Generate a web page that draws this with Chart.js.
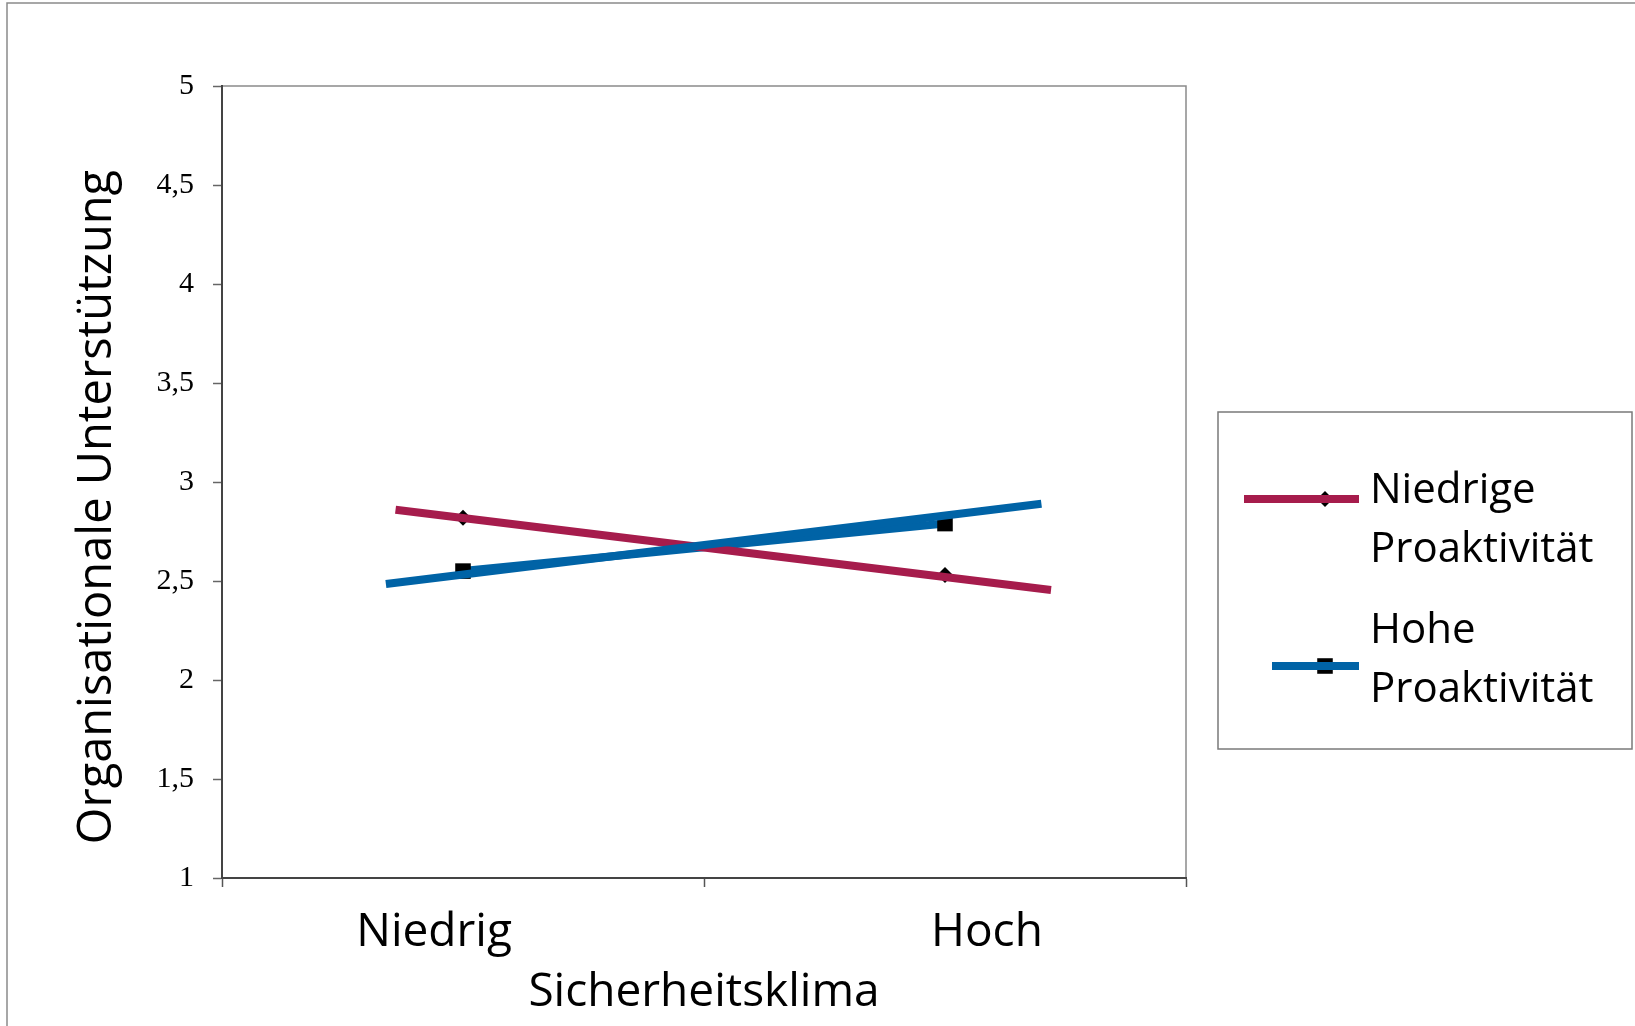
<!DOCTYPE html>
<html lang="de">
<head>
  <meta charset="UTF-8" />
  <title>Organisationale Unterstützung nach Sicherheitsklima</title>
  <style>
    body { margin: 0; background: #fff; }
    #chartContainer { width: 1635px; height: 1026px; }
  </style>
  <script src="https://cdn.jsdelivr.net/npm/chart.js"></script>
</head>
<body>
  <div id="chartContainer">
    <canvas id="interaktion" width="1635" height="1026"></canvas>
  </div>
  <script>
    // Kategorien der x-Achse (Sicherheitsklima)
    const kategorien = ['Niedrig', 'Hoch'];
    const serienNamen = ['Niedrige Proaktivität', 'Hohe Proaktivität'];

    // Mittelwerte je Gruppe (Niedrig, Hoch)
    const niedrigeProaktivitaet = [2.82, 2.53];
    const hoheProaktivitaet = [2.55, 2.79];

    // verlängerte Geraden: x in Kategorie-Einheiten (0 = Niedrig, 1 = Hoch)
    const geradeNiedrigX = [-0.14, 1.22];
    const geradeNiedrigY = [2.86, 2.455];
    const geradeHochX = [-0.16, 1.2];
    const geradeHochY = [2.485, 2.89];

    // y-Achse
    const yTicks = [1, 1.5, 2, 2.5, 3, 3.5, 4, 4.5, 5];
    const yTitel = 'Organisationale Unterstützung';
    const xTitel = 'Sicherheitsklima';

    const ROT = '#A61C4C';
    const BLAU = '#0063A6';
    const SCHRIFT = "'Open Sans', 'Noto Sans', sans-serif";

    // Beschriftungen stehen im Original etwas neben den Kategorien
    const labelVersatz = [-0.06, 0.087];

    const punkte = (xs, ys) => xs.map((x, i) => ({ x: x, y: ys[i] }));

    // Rahmen, y-Titel und Legende
    const zusatz = {
      id: 'zusatz',
      beforeDraw(chart) {
        const { ctx, chartArea: a } = chart;
        ctx.save();
        ctx.strokeStyle = '#8a8a8a';
        ctx.lineWidth = 1.5;
        ctx.beginPath();
        ctx.moveTo(7, chart.height);
        ctx.lineTo(7, 3);
        ctx.lineTo(chart.width, 3);
        ctx.stroke();
        // Plotrahmen oben und rechts
        ctx.beginPath();
        ctx.moveTo(a.left, a.top);
        ctx.lineTo(a.right, a.top);
        ctx.lineTo(a.right, a.bottom);
        ctx.stroke();
        // y-Achsentitel
        ctx.translate(98, 507);
        ctx.rotate(-Math.PI / 2);
        ctx.fillStyle = '#000';
        ctx.font = '47px ' + SCHRIFT;
        ctx.textAlign = 'center';
        ctx.textBaseline = 'middle';
        ctx.fillText(yTitel, 0, 0);
        ctx.restore();
      },
      afterDraw(chart) {
        const { ctx, chartArea: a } = chart;
        const L = a.right + 32, T = 412;
        ctx.save();
        ctx.strokeStyle = '#7a7a7a';
        ctx.lineWidth = 1.5;
        ctx.strokeRect(L, T, 414, 337);
        const eintraege = [
          { ds: 0, trend: 2, x1: 26, y: 87, text: [91, 150] },
          { ds: 1, trend: 3, x1: 54, y: 254, text: [231, 290] }
        ];
        ctx.font = '42px ' + SCHRIFT;
        ctx.textBaseline = 'alphabetic';
        eintraege.forEach(e => {
          const ds = chart.data.datasets[e.ds];
          const tr = chart.data.datasets[e.trend];
          ctx.fillStyle = '#000';
          Chart.helpers.drawPoint(ctx, {
            pointStyle: ds.pointStyle, radius: ds.pointRadius, borderWidth: 0, rotation: 0
          }, L + 107, T + e.y);
          ctx.strokeStyle = tr.borderColor;
          ctx.lineWidth = tr.borderWidth;
          ctx.beginPath();
          ctx.moveTo(L + e.x1, T + e.y);
          ctx.lineTo(L + 141, T + e.y);
          ctx.stroke();
          const teile = ds.label.split(' ');
          ctx.fillStyle = '#000';
          ctx.fillText(teile[0], L + 152, T + e.text[0]);
          ctx.fillText(teile[1], L + 152, T + e.text[1]);
        });
        ctx.restore();
      }
    };

    const ctx = document.getElementById('interaktion').getContext('2d');
    new Chart(ctx, {
      type: 'line',
      data: {
        datasets: [
          {
            label: serienNamen[0],
            data: punkte([0, 1], niedrigeProaktivitaet),
            borderColor: '#000',
            borderWidth: 1.5,
            pointStyle: 'rectRot',
            pointRadius: 8,
            pointBackgroundColor: '#000',
            pointBorderWidth: 0,
            order: 4
          },
          {
            label: serienNamen[1],
            data: punkte([0, 1], hoheProaktivitaet),
            borderColor: BLAU,
            borderWidth: 8,
            pointStyle: 'rect',
            pointRadius: 11,
            pointBackgroundColor: '#000',
            pointBorderWidth: 0,
            order: 3
          },
          {
            label: 'Gerade ' + serienNamen[0],
            data: punkte(geradeNiedrigX, geradeNiedrigY),
            borderColor: ROT,
            borderWidth: 8,
            pointRadius: 0,
            order: 2
          },
          {
            label: 'Gerade ' + serienNamen[1],
            data: punkte(geradeHochX, geradeHochY),
            borderColor: BLAU,
            borderWidth: 8,
            pointRadius: 0,
            order: 1
          }
        ]
      },
      options: {
        responsive: false,
        animation: false,
        devicePixelRatio: 1,
        layout: { padding: { left: 0, right: 449, top: 86, bottom: 0 } },
        plugins: { legend: { display: false }, tooltip: { enabled: false } },
        scales: {
          x: {
            type: 'linear',
            min: -0.5,
            max: 1.5,
            afterBuildTicks: scale => {
              const werte = [-0.5];
              kategorien.forEach((k, i) => {
                werte.push(i + labelVersatz[i]);
                werte.push(i + 0.5);
              });
              scale.ticks = werte.map(v => ({ value: v }));
            },
            afterFit: scale => { scale.height = 148; },
            ticks: {
              autoSkip: false,
              maxRotation: 0,
              padding: 18,
              color: '#000',
              font: { family: SCHRIFT, size: 46 },
              callback: (v, i) => (i % 2 === 1 ? kategorien[(i - 1) / 2] : '')
            },
            grid: {
              drawOnChartArea: false,
              tickLength: 9,
              tickWidth: 1.5,
              tickColor: c => (c.index % 2 === 0 ? '#555' : 'rgba(0,0,0,0)')
            },
            border: { color: '#444', width: 2 },
            title: {
              display: true,
              text: xTitel,
              color: '#000',
              font: { family: SCHRIFT, size: 46 },
              padding: { top: 0, bottom: 6 }
            }
          },
          y: {
            min: 1,
            max: 5,
            afterBuildTicks: scale => { scale.ticks = yTicks.map(v => ({ value: v })); },
            afterFit: scale => { scale.width = 222; },
            ticks: {
              padding: 19,
              color: '#000',
              font: { family: "'Liberation Serif', 'Times New Roman', serif", size: 30 },
              callback: v => String(v).replace('.', ',')
            },
            grid: {
              drawOnChartArea: false,
              tickLength: 9,
              tickWidth: 1.5,
              tickColor: '#666'
            },
            border: { color: '#444', width: 2 }
          }
        }
      },
      plugins: [zusatz]
    });
  </script>
</body>
</html>
